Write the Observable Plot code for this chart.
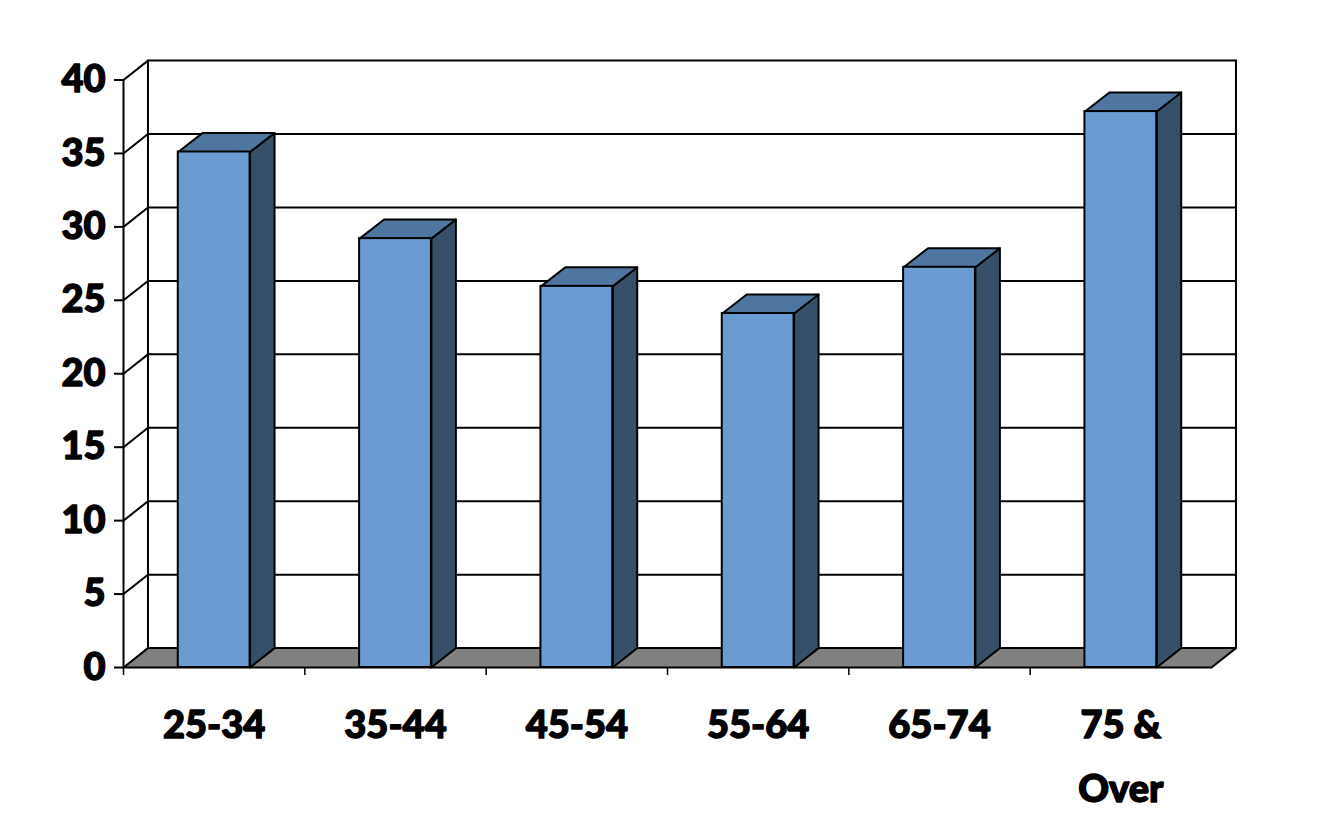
<!DOCTYPE html>
<html>
<head>
<meta charset="utf-8">
<script src="https://cdn.jsdelivr.net/npm/d3@7"></script>
<script src="https://cdn.jsdelivr.net/npm/@observablehq/plot@0.6"></script>
<style>html,body{margin:0;padding:0;background:#fff}svg{display:block}</style>
</head>
<body>
<div id="chart"></div>
<script>
const categories = ["25-34", "35-44", "45-54", "55-64", "65-74", "75 &\nOver"];
const values = [35.1, 29.2, 25.95, 24.1, 27.25, 37.85];
const yTicks = [0, 5, 10, 15, 20, 25, 30, 35, 40];
const xBoundaries = [0, 1, 2, 3, 4, 5];

const depthX = 0.135, depthY = 1.32, barDepthY = 1.3, halfBar = 0.198;
const font = "Lato, 'Open Sans', sans-serif";

const bars = values.map((v, i) => ({
  cat: categories[i], v, i, x1: i + 0.5 - halfBar, x2: i + 0.5 + halfBar
}));
const poly = (id, pts) => pts.map(([x, y]) => ({id, x, y}));
const topFaces = bars.flatMap(b => poly("t" + b.i, [
  [b.x1, b.v], [b.x1 + depthX, b.v + barDepthY], [b.x2 + depthX, b.v + barDepthY], [b.x2, b.v], [b.x1, b.v]
]));
const sideFaces = bars.flatMap(b => poly("s" + b.i, [
  [b.x2, 0], [b.x2 + depthX, depthY], [b.x2 + depthX, b.v + barDepthY], [b.x2, b.v], [b.x2, 0]
]));
const floor = poly("floor", [
  [0, 0], [depthX, depthY], [6 + depthX, depthY], [6, 0], [0, 0]
]);
const grid = yTicks.filter(t => t > 0).flatMap(t => poly("g" + t, [
  [0, t], [depthX, t + depthY], [6 + depthX, t + depthY]
]));
const walls = [
  ...poly("back", [[depthX, depthY], [depthX, 40 + depthY]]),
  ...poly("right", [[6 + depthX, depthY], [6 + depthX, 40 + depthY]]),
  ...poly("left", [[0, 0], [0, 40]])
];

const sw = 2;
const chart = Plot.plot({
  width: 1334,
  height: 823,
  marginLeft: 123,
  marginRight: 123,
  marginTop: 79.5,
  marginBottom: 156,
  style: {background: "#fff", fontFamily: font},
  x: {type: "linear", domain: [0, 6], axis: null},
  y: {type: "linear", domain: [0, 40], axis: null},
  marks: [
    Plot.line(floor, {x: "x", y: "y", z: "id", fill: "#808080", stroke: "#000", strokeWidth: sw}),
    Plot.line(grid, {x: "x", y: "y", z: "id", stroke: "#000", strokeWidth: sw}),
    Plot.line(walls, {x: "x", y: "y", z: "id", stroke: "#000", strokeWidth: sw}),
    Plot.line(sideFaces, {x: "x", y: "y", z: "id", fill: "#365069", stroke: "#000", strokeWidth: sw}),
    Plot.line(topFaces, {x: "x", y: "y", z: "id", fill: "#4F76A0", stroke: "#000", strokeWidth: sw}),
    Plot.rect(bars, {x1: "x1", x2: "x2", y1: 0, y2: "v", fill: "#6A9BD1", stroke: "#000", strokeWidth: sw}),
    Plot.axisY({
      ticks: yTicks, tickSize: 9, tickFormat: () => "", anchor: "left",
      stroke: "#000", strokeWidth: sw, label: null
    }),
    Plot.axisX({
      ticks: xBoundaries, tickSize: 8, tickFormat: () => "", anchor: "bottom",
      stroke: "#000", strokeWidth: 1.5, label: null
    }),
    Plot.text(yTicks, {
      x: () => 0, y: d => d, text: d => String(d), dx: -18, textAnchor: "end",
      fontSize: 38, fontWeight: 900, fill: "#000", stroke: "#000", strokeWidth: 1.4
    }),
    Plot.text(bars, {
      x: d => d.i + 0.5, y: () => 0, text: "cat", dy: 25, lineAnchor: "top",
      fontSize: 38, fontWeight: 900, fill: "#000", stroke: "#000", strokeWidth: 1.4, lineHeight: 1.68
    })
  ]
});
document.getElementById("chart").append(chart);
</script>
</body>
</html>
